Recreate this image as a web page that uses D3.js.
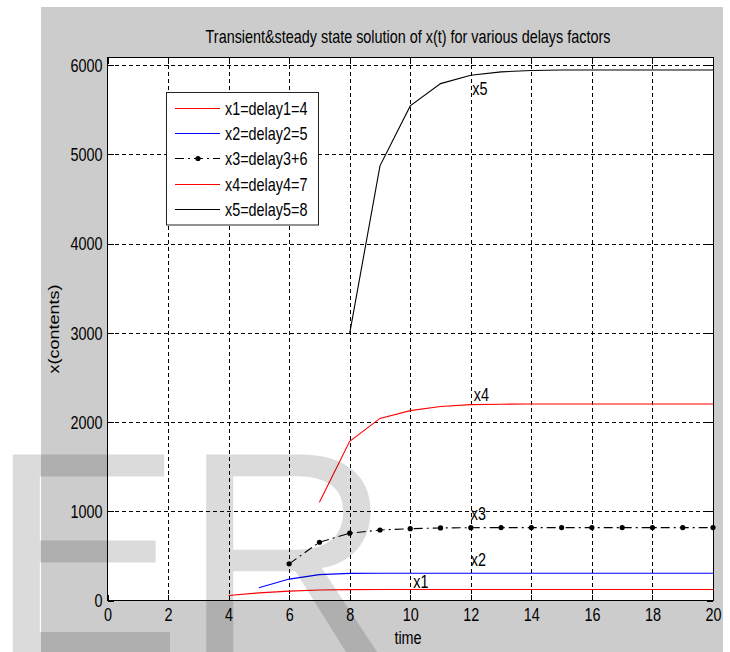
<!DOCTYPE html>
<html lang="en">
<head>
<meta charset="utf-8">
<title>transient steady state</title>
<script src="https://d3js.org/d3.v7.min.js"></script>
<style>
  body { margin: 0; background: #fff; }
  svg text { font-family: "Liberation Sans", Arial, sans-serif; font-size: 18px; fill: #000; }
</style>
</head>
<body>
<svg id="chart" width="730" height="652"></svg>
<script>
// data
const x1Time = [4,5,6,7,8,9,10,11,12,13,14,15,16,17,18,19,20]
const x1Vals = [56,85,105,117,122,123,123,123,123,123,123,123,123,123,123,123,123]
const x2Time = [5,6,7,8,9,10,11,12,13,14,15,16,17,18,19,20]
const x2Vals = [142,240,290,304,306,306,306,306,306,306,306,306,306,306,306,306]
const x3Time = [6,7,8,9,10,11,12,13,14,15,16,17,18,19,20]
const x3Vals = [411,653,754,790,805,813,816,817,817,817,817,817,817,817,817]
const x4Time = [7,8,9,10,11,12,13,14,15,16,17,18,19,20]
const x4Vals = [1101,1784,2041,2128,2175,2195,2200,2202,2202,2202,2202,2202,2202,2202]
const x5Time = [8,9,10,11,12,13,14,15,16,17,18,19,20]
const x5Vals = [2993,4871,5543,5793,5887,5925,5940,5945,5945,5945,5945,5945,5945]

const legendNames = ["x1=delay1=4","x2=delay2=5","x3=delay3+6","x4=delay4=7","x5=delay5=8"]
const curveNames = ["x1","x2","x3","x4","x5"]
const labelTime = [10.1, 12, 12, 12.1, 12.05]
const labelVals = [142, 392, 907, 2240, 5661]
const xTicks = [0,2,4,6,8,10,12,14,16,18,20]
const yTicks = [0,1000,2000,3000,4000,5000,6000]

const series = [
  {t: x1Time, v: x1Vals, color: "#ff0000", dash: null, marker: false},
  {t: x2Time, v: x2Vals, color: "#0000ff", dash: null, marker: false},
  {t: x3Time, v: x3Vals, color: "#000000", dash: "9,4,2,4", marker: true},
  {t: x4Time, v: x4Vals, color: "#ff0000", dash: null, marker: false},
  {t: x5Time, v: x5Vals, color: "#000000", dash: null, marker: false}
]

// layout
const padL = 107.5, padR = 713, padT = 57.5, padB = 600.5
const sx = 0.8   // text looks squeezed sideways

const svg = d3.select("#chart")

// figure background
svg.append("rect").attr("x", 41).attr("y", 7).attr("width", 682).attr("height", 650).attr("fill", "#cccccc")
svg.append("rect").attr("x", padL).attr("y", padT).attr("width", padR - padL).attr("height", padB - padT).attr("fill", "#fff")

const x = d3.scaleLinear().domain([0, 20]).range([padL, padR])
const y = d3.scaleLinear().domain([0, 6080]).range([padB, padT + 0.5])

// grid
const gx = svg.append("g").attr("transform", `translate(0,${padB})`)
  .call(d3.axisBottom(x).tickValues(xTicks.slice(1, -1)).tickSize(-(padB - padT)).tickFormat(""))
const gy = svg.append("g").attr("transform", `translate(${padL},0)`)
  .call(d3.axisLeft(y).tickValues(yTicks.slice(1)).tickSize(-(padR - padL)).tickFormat(""))
for (const g of [gx, gy]) {
  g.select(".domain").remove()
  g.selectAll("line").attr("stroke", "#000").attr("stroke-dasharray", "4,3").attr("shape-rendering", "crispEdges")
}

// axes, ticks pointing inward like matlab
const axB = svg.append("g").attr("transform", `translate(0,${padB})`)
  .call(d3.axisBottom(x).tickValues(xTicks).tickSizeInner(-6).tickSizeOuter(0).tickFormat(d3.format("d")))
axB.selectAll("text").attr("y", 8).attr("dy", "0.72em").attr("transform", `scale(${sx},1)`)
const axT = svg.append("g").attr("transform", `translate(0,${padT})`)
  .call(d3.axisTop(x).tickValues(xTicks).tickSizeInner(-6).tickSizeOuter(0).tickFormat(""))
const axL = svg.append("g").attr("transform", `translate(${padL},0)`)
  .call(d3.axisLeft(y).tickValues(yTicks).tickSizeInner(-6).tickSizeOuter(0).tickFormat(d3.format("d")))
axL.selectAll("text").attr("x", -5 / sx).attr("dy", "0.35em").attr("transform", `scale(${sx},1)`)
const axR = svg.append("g").attr("transform", `translate(${padR},0)`)
  .call(d3.axisRight(y).tickValues(yTicks).tickSizeInner(-6).tickSizeOuter(0).tickFormat(""))
for (const g of [axB, axT, axL, axR]) {
  g.attr("font-family", null).attr("font-size", null)
  g.select(".domain").remove()
  g.selectAll("line").attr("stroke", "#000").attr("shape-rendering", "crispEdges")
}
svg.append("rect").attr("x", padL).attr("y", padT).attr("width", padR - padL).attr("height", padB - padT)
  .attr("fill", "none").attr("stroke", "#000").attr("shape-rendering", "crispEdges")

// curves
const line = d3.line().x(d => x(d[0])).y(d => y(d[1]))
series.forEach(s => {
  const pts = s.t.map((t, i) => [t, s.v[i]])
  svg.append("path").datum(pts).attr("d", line)
    .attr("fill", "none").attr("stroke", s.color).attr("stroke-width", 1.1)
    .attr("stroke-dasharray", s.dash)
  if (s.marker) {
    svg.selectAll(null).data(pts).enter().append("circle")
      .attr("cx", d => x(d[0])).attr("cy", d => y(d[1])).attr("r", 2.6).attr("fill", s.color)
  }
})

// curve labels
curveNames.forEach((n, i) => {
  svg.append("text").attr("transform", `translate(${x(labelTime[i])},${y(labelVals[i])}) scale(${sx},1)`).text(n)
})

// title and axis labels
svg.append("text").attr("transform", `translate(408,43.3) scale(${sx},1)`).attr("text-anchor", "middle")
  .text("Transient&steady state solution of x(t) for various delays factors")
svg.append("text").attr("transform", `translate(408,644) scale(${sx},1)`).attr("text-anchor", "middle").text("time")
svg.append("text").attr("transform", `translate(59,329) scale(${sx},1) rotate(-90)`).attr("text-anchor", "middle").text("x(contents)")

// legend
const lg = svg.append("g")
lg.append("rect").attr("x", 166.5).attr("y", 92.5).attr("width", 152).attr("height", 132.5)
  .attr("fill", "#fff").attr("stroke", "#222")
legendNames.forEach((n, i) => {
  const yy = Math.round(108 + i * 25.2) + 0.5
  const s = series[i]
  lg.append("line").attr("x1", 175).attr("x2", 220).attr("y1", yy).attr("y2", yy)
    .attr("stroke", s.color).attr("stroke-dasharray", s.dash ? "9,4,2,4" : null)
  if (s.marker) lg.append("circle").attr("cx", 198).attr("cy", yy).attr("r", 2.6).attr("fill", s.color)
  lg.append("text").attr("transform", `translate(225,${yy + 6.6}) scale(${sx},1)`).text(n)
})

// watermark
svg.append("text").attr("x", -11).attr("y", 654).style("font-size", "290px")
  .style("fill", "#000").style("fill-opacity", 0.14).style("pointer-events", "none").text("ER")
</script>
</body>
</html>
